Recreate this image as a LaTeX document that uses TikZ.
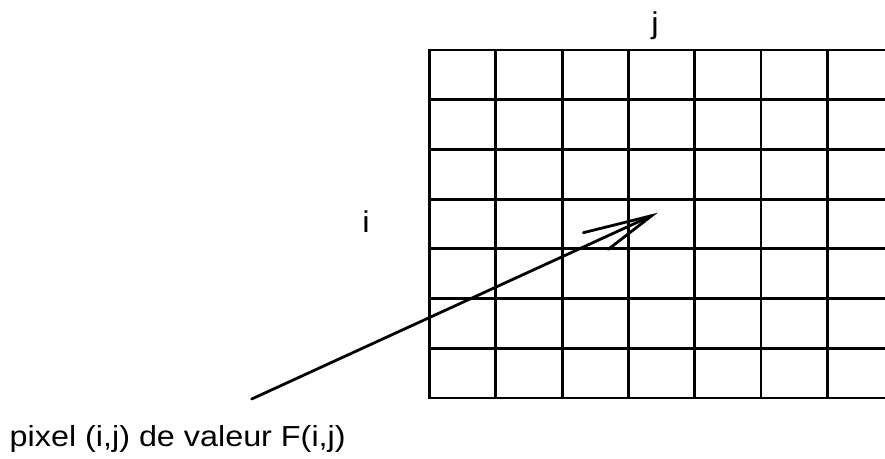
\documentclass[tikz,border=0pt]{standalone}
\usepackage{fontspec}
\setmainfont{Liberation Sans}
\begin{document}
\begin{tikzpicture}[x=1pt,y=-1pt,
  gridline/.style={line width=2.8pt,line cap=rect},
  arrowline/.style={line width=2.8pt,line cap=round},
  lbl/.style={inner sep=0pt,font=\fontsize{30}{36}\selectfont,anchor=base}]
\useasboundingbox (0,0) rectangle (885,458);
% horizontal lines
\foreach \k in {0,...,7}{
  \draw[gridline] (429.5,{50+\k*49.7}) -- (890,{50+\k*49.7});
}
% vertical lines
\foreach \k in {0,...,6}{
  \draw[gridline] ({429.5+\k*66.3},50) -- ({429.5+\k*66.3},397.9);
}
\node[lbl] (jlab) at (655,33.5) {\scalebox{1.1}[1]{j}};
\node[lbl] (ilab) at (366,232.5) {\scalebox{1.1}[1]{i}};
\node[inner sep=0pt,anchor=base west,font=\fontsize{29}{35}\selectfont] (cap) at (9.5,446.7) {\scalebox{1.115}[1]{pixel (i,j) de valeur F(i,j)}};
\coordinate (tail) at (251.7,399);
\coordinate (tip) at (651.7,215.7);
\coordinate (barbA) at (583.3,232.7);
\coordinate (barbB) at (608.3,249.3);
\draw[arrowline] (tail) -- (tip);
\draw[arrowline] (barbA) -- (tip) -- (barbB);
\end{tikzpicture}
\end{document}
